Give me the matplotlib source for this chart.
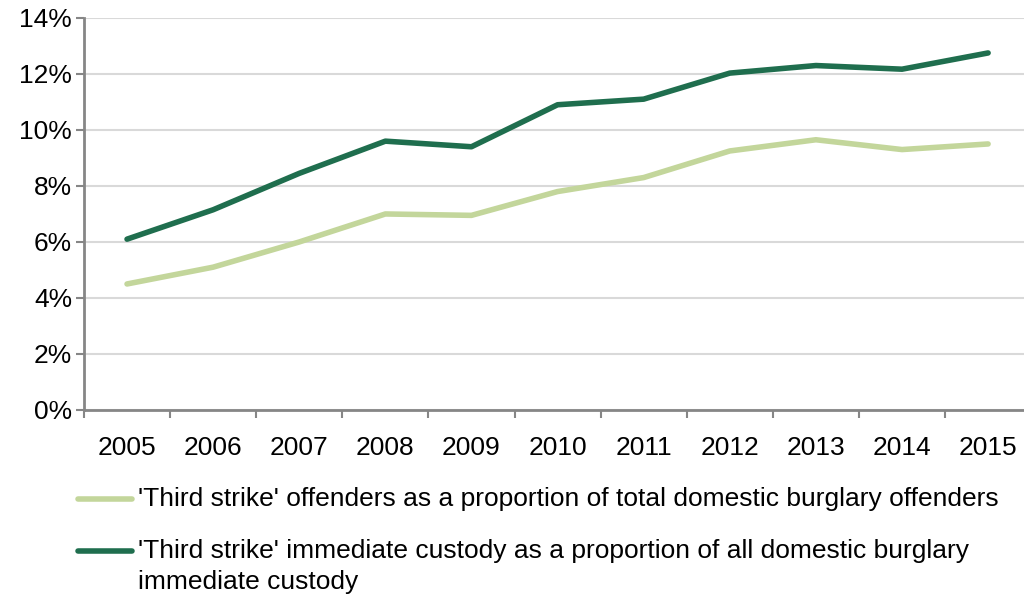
import matplotlib
matplotlib.use("Agg")
import matplotlib.pyplot as plt
from matplotlib.lines import Line2D
from matplotlib.ticker import FuncFormatter

# ----------------------------------------------------------------------------------------------------------------------
#  DATA
# ----------------------------------------------------------------------------------------------------------------------
years = ['2005', '2006', '2007', '2008', '2009', '2010', '2011', '2012', '2013', '2014', '2015']
offenders_pct = [4.5, 5.1, 6.0, 7.0, 6.95, 7.8, 8.3, 9.25, 9.65, 9.3, 9.5]
custody_pct   = [6.1, 7.15, 8.45, 9.6, 9.4, 10.9, 11.1, 12.03, 12.3, 12.17, 12.75]

label_offenders = "'Third strike' offenders as a proportion of total domestic burglary offenders"
label_custody   = "'Third strike' immediate custody as a proportion of all domestic burglary\nimmediate custody"

# ----------------------------------------------------------------------------------------------------------------------
#  PLOT
# ----------------------------------------------------------------------------------------------------------------------
plt.rcParams['font.family'] = ['Liberation Sans', 'DejaVu Sans']

light_green = '#C3D69B'
dark_green  = '#1F6E4E'
axis_grey   = '#868686'
font_size   = 19

fig = plt.figure(figsize=(10.24, 5.98), dpi=100)
ax  = fig.add_axes([0.082, 0.3144, 0.925, 0.6556])

x = list(range(len(years)))
ax.plot(x, offenders_pct, color=light_green, linewidth=4, solid_capstyle='round',
        solid_joinstyle='round')
ax.plot(x, custody_pct, color=dark_green, linewidth=4, solid_capstyle='round',
        solid_joinstyle='round')

ax.set_xlim(-0.5, len(years) - 0.5)
ax.set_ylim(0, 14)
ax.set_yticks(range(0, 15, 2))
ax.yaxis.set_major_formatter(FuncFormatter(lambda v, p: f'{int(v)}%'))

# category labels centred, tick marks at the boundaries
ax.set_xticks(x)
ax.set_xticklabels(years)
ax.set_xticks([i - 0.5 for i in range(len(years))], minor=True)
ax.tick_params(axis='x', which='major', length=0, pad=19, labelsize=font_size)
ax.tick_params(axis='x', which='minor', length=6, width=1.5, color=axis_grey, direction='out')
ax.tick_params(axis='y', length=6, width=1.5, color=axis_grey, labelsize=font_size, pad=2.5)

ax.grid(axis='y', color='#D9D9D9', linewidth=1.5)
ax.set_axisbelow(True)
for side in ['top', 'right']:
    ax.spines[side].set_visible(False)
for side in ['left', 'bottom']:
    ax.spines[side].set_color(axis_grey)
    ax.spines[side].set_linewidth(2)

# legend drawn by hand so the handle sits level with the first text line
W, H = 1024.0, 598.0
legend_rows = [(light_green, label_offenders, 499), (dark_green, label_custody, 551)]
for color, text, y_px in legend_rows:
    yf = 1 - y_px / H
    fig.add_artist(Line2D([78 / W, 132 / W], [yf, yf], color=color, linewidth=4,
                          solid_capstyle='round', transform=fig.transFigure))
    fig.text(138 / W, 1 - (y_px - 12) / H, text, fontsize=font_size, ha='left', va='top',
             linespacing=1.35)

fig.savefig('out.png', dpi=100)
